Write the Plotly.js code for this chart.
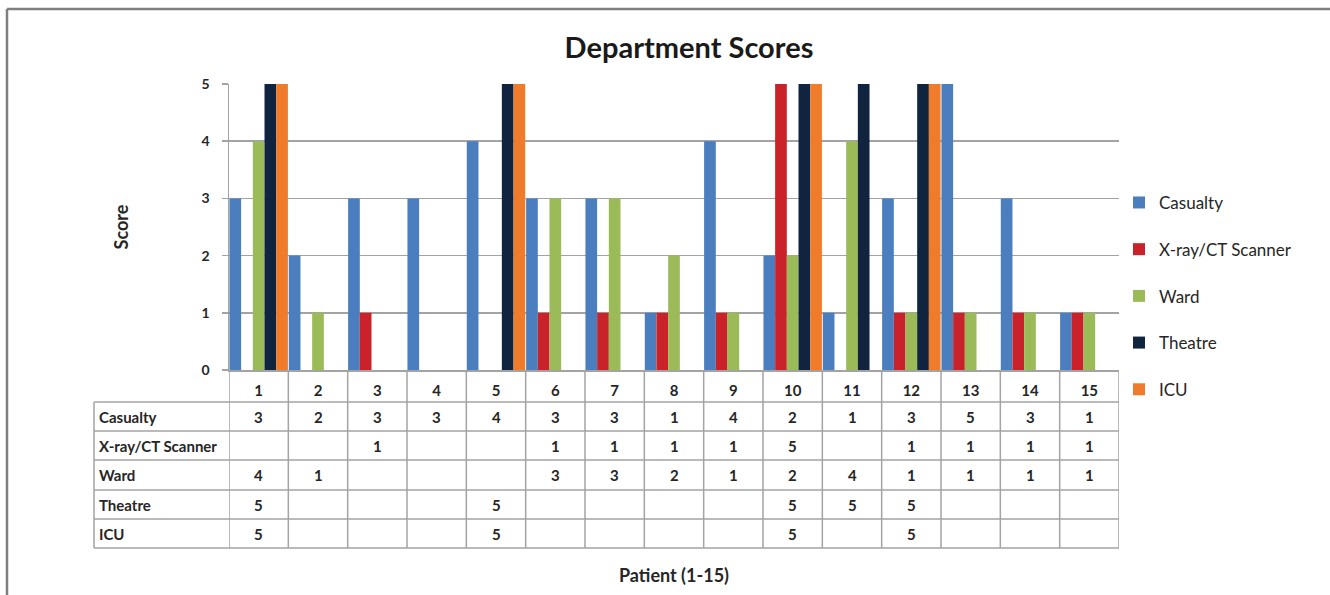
<!DOCTYPE html>
<html>
<head>
<meta charset="utf-8">
<script src="https://cdn.plot.ly/plotly-3.0.1.min.js"></script>
<style>html,body{margin:0;padding:0;background:#fff;}#chart{width:1330px;height:595px;}</style>
</head>
<body>
<div id="chart"></div>
<script>
var patients = [1,2,3,4,5,6,7,8,9,10,11,12,13,14,15];
var seriesNames = ["Casualty", "X-ray/CT Scanner", "Ward", "Theatre", "ICU"];
var casualty = [3,2,3,3,4,3,3,1,4,2,1,3,5,3,1];
var xray     = [null,null,1,null,null,1,1,1,1,5,null,1,1,1,1];
var ward     = [4,1,null,null,null,3,3,2,1,2,4,1,1,1,1];
var theatre  = [5,null,null,null,5,null,null,null,null,5,5,5,null,null,null];
var icu      = [5,null,null,null,5,null,null,null,null,5,null,5,null,null,null];
var yTicks = [0,1,2,3,4,5];
var colors = ["#4a7ebf", "#c9222a", "#9bbb59", "#10243f", "#ef7b2b"];

var allSeries = [casualty, xray, ward, theatre, icu];
var FONT = "Lato, 'DejaVu Sans', sans-serif";
var GRID = "#a3a3a3";

var traces = allSeries.map(function(vals, i){
  return {
    type: "bar", x: patients, y: vals, name: seriesNames[i],
    legendgroup: "g" + i,
    marker: {color: colors[i], line: {width: 0}},
    hoverinfo: "x+y+name"
  };
});

// table geometry in paper coordinates (plot area height 286px)
var H = 286, W = 890;
function py(pixBelowAxis){ return -pixBelowAxis / H; }
var rowLines = [32, 61, 90, 120, 149, 178];    // px below axis
var labelLeft = -135 / W;

var shapes = [];
rowLines.forEach(function(r){
  shapes.push({type:"line", xref:"paper", yref:"paper", x0:labelLeft, x1:1, y0:py(r), y1:py(r),
    line:{color:GRID, width:1.5}});
});
for (var k = 0; k <= patients.length; k++) {
  shapes.push({type:"line", xref:"x", yref:"paper", x0:patients[0]-0.5+k, x1:patients[0]-0.5+k,
    y0:0, y1:py(rowLines[rowLines.length-1]), line:{color:GRID, width:1.5}});
}
shapes.push({type:"line", xref:"paper", yref:"paper", x0:labelLeft, x1:labelLeft,
  y0:py(rowLines[0]), y1:py(rowLines[rowLines.length-1]), line:{color:GRID, width:1.5}});
shapes.push({type:"line", xref:"paper", yref:"paper", x0:-222/W, x1:1101/W, y0:361/H, y1:361/H,
  line:{color:"#7f7f7f", width:2.5}});
shapes.push({type:"line", xref:"paper", yref:"paper", x0:-222/W, x1:-222/W, y0:361/H, y1:-226/H,
  line:{color:"#7f7f7f", width:2.5}});

var annotations = [];
allSeries.forEach(function(vals, i){
  var cy = py((rowLines[i] + rowLines[i+1]) / 2);
  annotations.push({xref:"paper", yref:"paper", x:labelLeft + 3/W, y:cy, xanchor:"left", yanchor:"middle",
    text:"<b>" + seriesNames[i] + "</b>", showarrow:false, font:{family:FONT, size:15, color:"#262626"}});
  vals.forEach(function(v, j){
    if (v === null) return;
    annotations.push({xref:"x", yref:"paper", x:patients[j], y:cy, xanchor:"center", yanchor:"middle",
      text:"<b>" + v + "</b>", showarrow:false, font:{family:FONT, size:15, color:"#262626"}});
  });
});

var layout = {
  width: 1330, height: 595,
  margin: {l:229, r:211, t:84, b:225, pad:0},
  paper_bgcolor: "#ffffff", plot_bgcolor: "#ffffff",
  font: {family: FONT, color: "#262626"},
  title: {text: "<b>Department Scores</b>", x: 689/1330, xanchor: "center", y: 1 - 48/595, yanchor: "middle",
    font: {family: FONT, size: 29, color: "#1a1a1a"}},
  barmode: "group", bargap: 0.015, bargroupgap: 0,
  showlegend: true,
  legend: {x: 1, xanchor: "left", y: 0.259, yanchor: "middle", traceorder: "grouped",
    tracegroupgap: 21.6, font: {family: FONT, size: 17, color: "#262626"}, bgcolor: "rgba(0,0,0,0)",
    itemwidth: 30},
  xaxis: {
    type: "linear", range: [0.5, 15.5], tickvals: patients, ticktext: patients.map(function(p){return "<b>"+p+"</b>";}),
    showgrid: false, zeroline: false, showline: true, linecolor: GRID, linewidth: 1.5,
    ticks: "", ticklabelstandoff: 6, tickfont: {family: FONT, size: 15, color: "#262626"},
    title: {text: "<b>Patient (1-15)</b>", standoff: 172, font: {family: FONT, size: 18, color: "#262626"}},
    automargin: false, fixedrange: true
  },
  yaxis: {
    range: [0, 5], tickvals: yTicks, ticktext: yTicks.map(function(t){return "<b>"+t+"</b>";}),
    showgrid: true, gridcolor: GRID, gridwidth: 1.5, zeroline: false,
    showline: true, linecolor: GRID, linewidth: 1.5,
    ticks: "outside", ticklen: 6, tickcolor: GRID, tickwidth: 1.5, ticklabelstandoff: 9,
    tickfont: {family: FONT, size: 14, color: "#262626"},
    title: {text: "<b>Score</b>", standoff: 68, font: {family: FONT, size: 18, color: "#262626"}},
    automargin: false, fixedrange: true
  },
  shapes: shapes,
  annotations: annotations
};

Plotly.newPlot("chart", traces, layout, {displayModeBar: false, staticPlot: true});
</script>
</body>
</html>
